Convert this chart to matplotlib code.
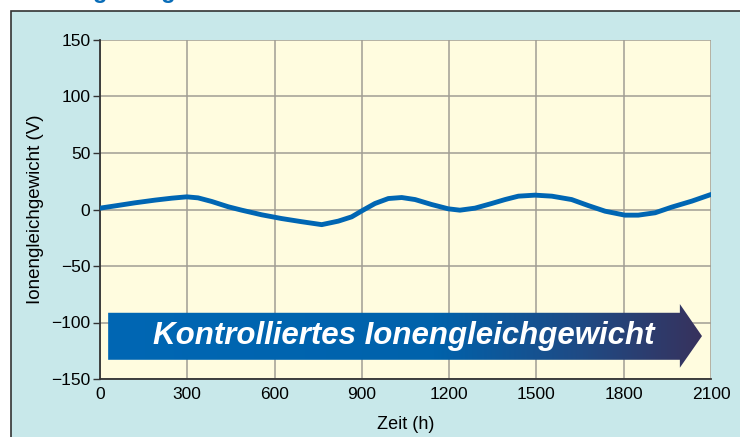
import numpy as np
from matplotlib import pyplot as plt
from matplotlib.patches import Polygon, Rectangle
from matplotlib.colors import LinearSegmentedColormap

plt.rcParams['font.family'] = ['Liberation Sans', 'DejaVu Sans']

# values
zeit = [0, 52, 120, 189, 246, 298, 337, 384, 441, 487, 556, 624, 693, 762, 819, 865,
        902, 945, 991, 1037, 1083, 1140, 1197, 1237, 1289, 1346, 1392, 1438, 1495,
        1553, 1621, 1678, 1736, 1804, 1850, 1908, 1965, 2034, 2100]
spannung = [1.2, 3.2, 5.9, 8.3, 10.0, 11.2, 10.3, 7.1, 2.4, -0.6, -4.7, -8.0, -10.8,
            -13.4, -10.3, -6.5, -0.9, 5.3, 9.7, 10.6, 8.8, 4.4, 0.6, -0.6, 1.2, 5.3,
            8.8, 11.8, 12.7, 11.8, 8.8, 3.5, -1.5, -5.0, -5.0, -2.9, 2.1, 7.4, 13.3]

x_ticks = [0, 300, 600, 900, 1200, 1500, 1800, 2100]
y_ticks = [-150, -100, -50, 0, 50, 100, 150]
banner_text = "Kontrolliertes Ionengleichgewicht"
title_text = "Ionengleichgewicht"

fig = plt.figure(figsize=(7.4, 4.37), dpi=100)
fig.patch.set_facecolor('white')

# light blue panel with dark border
panel = Rectangle((11 / 740, -0.05), 1.1, (437 - 11) / 437 + 0.05, transform=fig.transFigure,
                  facecolor='#c8e8ea', edgecolor='#333333', linewidth=1.2, zorder=-10)
fig.patches.append(panel)

# title mostly cut off at the top edge (as in the reference)
fig.text(30 / 740, 1.0 + 2 / 437, title_text, color='#0a6db8', fontsize=17, fontweight='bold',
         ha='left', va='baseline')

ax = fig.add_axes([100 / 740, (437 - 379) / 437, 611 / 740, 339 / 437])
ax.set_facecolor('#fffcdf')

ax.plot(zeit, spannung, color='#0066b3', linewidth=3.5, solid_capstyle='round',
        solid_joinstyle='round', zorder=5)

ax.set_xlim(0, 2100)
ax.set_ylim(-150, 150)
ax.set_xticks(x_ticks)
ax.set_yticks(y_ticks)
ax.grid(True, color='#a09d94', linewidth=1.1)
ax.set_axisbelow(True)
for s in ['top', 'right']:
    ax.spines[s].set_visible(False)
for s in ['left', 'bottom']:
    ax.spines[s].set_color('#333333')
    ax.spines[s].set_linewidth(1.3)
ax.tick_params(axis='y', length=5, width=1, color='#333333', labelsize=12.5, pad=2)
ax.tick_params(axis='x', length=0, labelsize=12.5, pad=6)
ax.set_xlabel("Zeit (h)", fontsize=13, labelpad=10)
ax.set_ylabel("Ionengleichgewicht (V)", fontsize=13.5, labelpad=5)

# arrow banner with gradient
pts = [(28, -91.4), (1993, -91.4), (1993, -83.7), (2069, -112), (1993, -140),
       (1993, -133), (28, -133)]
arrow = Polygon(pts, closed=True, facecolor='none', edgecolor='none')
ax.add_patch(arrow)
cmap = LinearSegmentedColormap.from_list('banner', [(0, '#0067b4'), (0.55, '#0062ab'),
                                                     (0.8, '#1f4a84'), (1, '#37325d')])
grad = np.linspace(0, 1, 256).reshape(1, -1)
img = ax.imshow(grad, extent=[28, 2069, -140, -83.7], cmap=cmap, aspect='auto', zorder=6)
img.set_clip_path(arrow)
ax.text(1045, -112, banner_text, color='white', fontsize=22.5, fontweight='bold',
        fontstyle='italic', ha='center', va='center', zorder=7)
ax.set_xlim(0, 2100)
ax.set_ylim(-150, 150)

fig.savefig('out.png', dpi=100)
